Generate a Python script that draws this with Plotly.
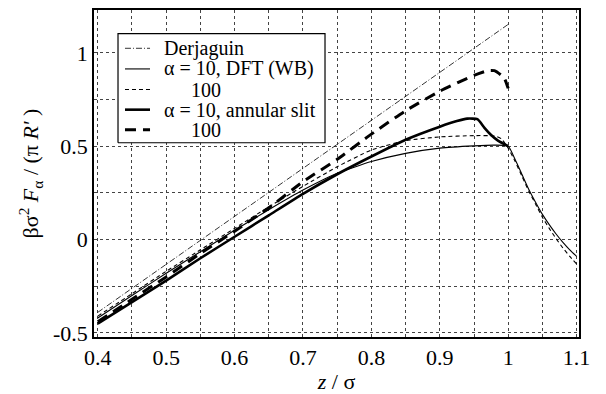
import plotly.graph_objects as go

# ---- data ----
derj_z = [0.4, 0.55, 0.7, 0.85, 1.0]
derj_f = [-0.39, -0.004, 0.382, 0.767, 1.153]

dft10_z = [0.4, 0.45, 0.5, 0.55, 0.6, 0.65, 0.7, 0.75, 0.8, 0.85, 0.9, 0.95, 0.98, 1.0,
           1.01, 1.02, 1.03, 1.04, 1.05, 1.06, 1.07, 1.08, 1.09, 1.1]
dft10_f = [-0.42, -0.30, -0.18, -0.065, 0.05, 0.16, 0.265, 0.355, 0.418, 0.462, 0.49, 0.502, 0.506, 0.50,
           0.43, 0.35, 0.27, 0.20, 0.135, 0.08, 0.03, -0.015, -0.055, -0.09]

dft100_z = [0.4, 0.45, 0.5, 0.55, 0.6, 0.65, 0.7, 0.75, 0.8, 0.85, 0.9, 0.95, 0.98, 0.99, 1.0,
            1.01, 1.02, 1.03, 1.04, 1.05, 1.06, 1.07, 1.08, 1.09, 1.1]
dft100_f = [-0.41, -0.29, -0.17, -0.055, 0.06, 0.175, 0.285, 0.39, 0.48, 0.53, 0.55, 0.557, 0.555, 0.54, 0.49,
            0.42, 0.34, 0.26, 0.19, 0.12, 0.06, 0.005, -0.045, -0.09, -0.13]

slit10_z = [0.4, 0.45, 0.5, 0.55, 0.6, 0.65, 0.7, 0.75, 0.8, 0.85, 0.9, 0.925, 0.94, 0.955,
            0.965, 0.975, 0.985, 1.0]
slit10_f = [-0.45, -0.335, -0.22, -0.10, 0.015, 0.13, 0.245, 0.35, 0.445, 0.535, 0.605, 0.635, 0.648, 0.645,
            0.60, 0.56, 0.53, 0.50]

slit100_z = [0.4, 0.45, 0.5, 0.55, 0.6, 0.65, 0.7, 0.75, 0.8, 0.85, 0.9, 0.95, 0.97, 0.98, 0.99, 0.995, 1.0]
slit100_f = [-0.44, -0.32, -0.20, -0.075, 0.045, 0.17, 0.31, 0.43, 0.565, 0.69, 0.795, 0.88, 0.905, 0.905,
             0.88, 0.86, 0.81]

x_tickvals = [0.4, 0.5, 0.6, 0.7, 0.8, 0.9, 1.0, 1.1]
x_ticktext = ["0.4", "0.5", "0.6", "0.7", "0.8", "0.9", "1", "1.1"]
y_tickvals = [-0.5, 0, 0.5, 1]
y_ticktext = ["-0.5", "0", "0.5", "1"]

legend_labels = ["Derjaguin", "α = 10, DFT (WB)", "100", "α = 10, annular slit", "100"]

# ---- styles ----
styles = [
    dict(color="black", width=0.8, dash="6px,2px,1px,2px"),
    dict(color="black", width=1.1, dash="solid"),
    dict(color="black", width=1.1, dash="4px,3px"),
    dict(color="black", width=2.6, dash="solid"),
    dict(color="black", width=3, dash="11px,7px"),
]
series = [(derj_z, derj_f), (dft10_z, dft10_f), (dft100_z, dft100_f),
          (slit10_z, slit10_f), (slit100_z, slit100_f)]

fig = go.Figure()
for i, ((zs, fs), st) in enumerate(zip(series, styles)):
    line = dict(st)
    if i > 0:
        line.update(shape="spline", smoothing=0.5)
    fig.add_trace(go.Scatter(x=zs, y=fs, mode="lines", name=legend_labels[i],
                             line=line, showlegend=False, hoverinfo="skip"))

font_family = "Liberation Serif"

# ---- hand-drawn legend on an overlaid 0..1 frame (same extent as the plot area) ----
bx0, bx1, by0, by1 = 0.0495, 0.4763, 0.594, 0.928
row_y = [0.8829, 0.8198, 0.7568, 0.6952, 0.6336]
sample_x = (0.0639, 0.1155)
text_x = [0.1423, 0.1423, 0.1979, 0.1423, 0.1979]

fig.add_trace(go.Scatter(x=[bx0, bx1, bx1, bx0, bx0], y=[by0, by0, by1, by1, by0],
                         mode="lines", fill="toself", fillcolor="white",
                         line=dict(color="black", width=1.2),
                         xaxis="x2", yaxis="y2", showlegend=False, hoverinfo="skip"))
for ry, st, tx, lab in zip(row_y, styles, text_x, legend_labels):
    fig.add_trace(go.Scatter(x=list(sample_x), y=[ry, ry], mode="lines",
                             line=dict(color=st["color"], width=st["width"], dash=st["dash"]),
                             xaxis="x2", yaxis="y2", showlegend=False, hoverinfo="skip"))
    fig.add_annotation(xref="paper", yref="paper", x=tx, y=ry, text=lab, showarrow=False,
                       xanchor="left", yanchor="middle", borderpad=0,
                       font=dict(family=font_family, size=20, color="black"))

fig.update_layout(
    width=606, height=394,
    margin=dict(l=94, r=27, t=8, b=53),
    paper_bgcolor="white", plot_bgcolor="white",
    font=dict(family=font_family, size=22, color="black"),
    showlegend=False,
    xaxis2=dict(overlaying="x", range=[0, 1], visible=False, fixedrange=True),
    yaxis2=dict(overlaying="y", range=[0, 1], visible=False, fixedrange=True),
)
fig.update_layout(
    xaxis=dict(
        range=[0.3945, 1.1035], tickvals=x_tickvals, ticktext=x_ticktext,
        showgrid=True, gridcolor="#444", griddash="dot", gridwidth=1,
        minor=dict(dtick=0.05, tick0=0.4, showgrid=True, gridcolor="#444", griddash="dot", gridwidth=1),
        showline=True, linecolor="black", linewidth=1.5, mirror=True,
        ticks="", zeroline=False,
        tickfont=dict(family=font_family, size=22),
        title=dict(text="<i>z</i> / σ", font=dict(family=font_family, size=22), standoff=0),
    ),
    yaxis=dict(
        range=[-0.522, 1.23], tickvals=y_tickvals, ticktext=y_ticktext,
        showgrid=True, gridcolor="#444", griddash="dot", gridwidth=1,
        minor=dict(dtick=0.25, tick0=0, showgrid=True, gridcolor="#444", griddash="dot", gridwidth=1),
        showline=True, linecolor="black", linewidth=1.5, mirror=True,
        ticks="", zeroline=False,
        tickfont=dict(family=font_family, size=22),
        title=dict(text="βσ<sup>2</sup> <i>F</i><sub>α</sub> / (π <i>R'</i> )",
                   font=dict(family=font_family, size=22), standoff=8),
    ),
)
fig.write_html("out.html")
